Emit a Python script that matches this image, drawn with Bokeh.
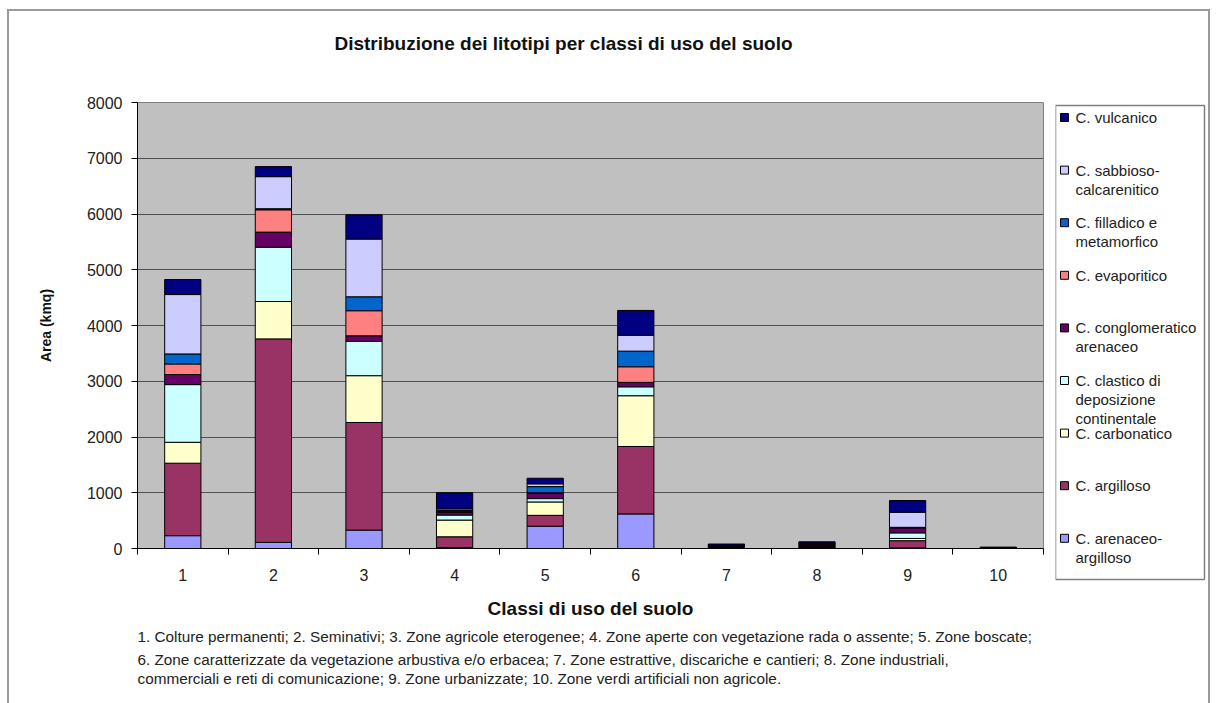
from bokeh.plotting import figure
from bokeh.models import Range1d, FixedTicker, ColumnDataSource, Title
from bokeh.layouts import row, column
from bokeh.core.properties import value
from bokeh.embed import file_html
from bokeh.resources import INLINE

# ---------------- data ----------------
categories = ["1", "2", "3", "4", "5", "6", "7", "8", "9", "10"]

# series, bottom of the stack first
series_names = [
    "C. arenaceo-argilloso",
    "C. argilloso",
    "C. carbonatico",
    "C. clastico di deposizione continentale",
    "C. conglomeratico arenaceo",
    "C. evaporitico",
    "C. filladico e metamorfico",
    "C. sabbioso-calcarenitico",
    "C. vulcanico",
]
arenaceo_argilloso = [230, 110, 330, 15, 400, 620, 5, 10, 10, 5]
argilloso = [1300, 3650, 1930, 195, 195, 1210, 10, 15, 130, 5]
carbonatico = [375, 670, 840, 300, 240, 910, 5, 10, 40, 0]
clastico = [1035, 975, 615, 90, 60, 160, 5, 15, 100, 0]
conglomeratico = [180, 270, 100, 50, 95, 80, 20, 30, 90, 5]
evaporitico = [190, 400, 450, 10, 10, 280, 0, 5, 5, 0]
filladico = [180, 20, 250, 20, 110, 280, 5, 10, 5, 0]
sabbioso = [1065, 575, 1035, 30, 50, 285, 5, 5, 270, 0]
vulcanico = [270, 180, 435, 290, 100, 445, 25, 20, 210, 10]

series_values = [arenaceo_argilloso, argilloso, carbonatico, clastico,
                 conglomeratico, evaporitico, filladico, sabbioso, vulcanico]

# legend text as wrapped in the original (legend order = top of stack first)
legend_lines = [
    ["C. vulcanico"],
    ["C. sabbioso-", "calcarenitico"],
    ["C. filladico e", "metamorfico"],
    ["C. evaporitico"],
    ["C. conglomeratico", "arenaceo"],
    ["C. clastico di", "deposizione", "continentale"],
    ["C. carbonatico"],
    ["C. argilloso"],
    ["C. arenaceo-", "argilloso"],
]

y_ticks = [0, 1000, 2000, 3000, 4000, 5000, 6000, 7000, 8000]

title_text = "Distribuzione dei litotipi per classi di uso del suolo"
x_title = "Classi di uso del suolo"
y_title = "Area (kmq)"
footnote_lines = [
    "1. Colture permanenti; 2. Seminativi; 3. Zone agricole eterogenee; 4. Zone aperte con vegetazione rada o assente; 5. Zone boscate;",
    "6. Zone caratterizzate da vegetazione arbustiva e/o erbacea; 7. Zone estrattive, discariche e cantieri; 8. Zone industriali,",
    "commerciali e reti di comunicazione; 9. Zone urbanizzate; 10. Zone verdi artificiali non agricole.",
]

# ---------------- styles / layout ----------------
colors = ["#9999FF", "#993366", "#FFFFCC", "#CCFFFF", "#660066",
          "#FF8080", "#0066CC", "#CCCCFF", "#000080"]
FONT = "Liberation Sans"

# page coordinates (px)
TOP, LEFT = 11, 9           # inner corner of the outer chart border
HEAD = 71                   # bottom of the title strip
SPLIT = 1055                # main figure | legend figure
RIGHT = 1208
BOTTOM = 703
FRAME_L, FRAME_R, FRAME_T, FRAME_B = 137, 1043, 102, 548


def blank(width, height, x0, x1, y0, y1):
    f = figure(width=width, height=height,
               x_range=Range1d(x0, x1), y_range=Range1d(y1, y0),
               output_backend="svg", toolbar_location=None,
               x_axis_location=None, y_axis_location=None,
               min_border=0, min_border_left=0, min_border_right=0,
               min_border_top=0, min_border_bottom=0)
    f.outline_line_color = None
    f.grid.visible = False
    f.background_fill_color = "white"
    f.border_fill_color = "white"
    return f


# ---------------- title strip ----------------
hd = blank(SPLIT - LEFT, HEAD - TOP, LEFT, SPLIT, TOP, HEAD)
hd.text(x=[563], y=[43], text=[title_text], text_font=value(FONT),
        text_font_style="bold", text_font_size="19px", text_align="center",
        text_baseline="middle", text_color="#111111")

# ---------------- main chart ----------------
keys = ["s%d" % i for i in range(len(series_names))]
data = {"x": [i + 1 for i in range(len(categories))]}
for k, v in zip(keys, series_values):
    data[k] = v
src = ColumnDataSource(data)

p = figure(width=SPLIT - LEFT, height=BOTTOM - HEAD,
           x_range=Range1d(0.5, len(categories) + 0.5),
           y_range=Range1d(y_ticks[0], y_ticks[-1]),
           output_backend="svg", toolbar_location=None,
           min_border_left=FRAME_L - LEFT, min_border_right=SPLIT - FRAME_R,
           min_border_top=FRAME_T - HEAD, min_border_bottom=BOTTOM - FRAME_B)
p.background_fill_color = "#C0C0C0"
p.border_fill_color = "white"
p.outline_line_color = "#808080"
p.outline_line_width = 1

p.vbar_stack(keys, x="x", width=0.4, color=colors, line_color="black",
             line_width=1, source=src)

xs = data["x"]
p.xaxis.ticker = FixedTicker(ticks=xs, minor_ticks=[x - 0.5 for x in xs] + [xs[-1] + 0.5])
p.xaxis.major_label_overrides = {x: c for x, c in zip(xs, categories)}
p.xaxis.major_tick_line_color = None
p.xaxis.major_tick_out = 0
p.xaxis.major_tick_in = 0
p.xaxis.minor_tick_out = 6
p.xaxis.minor_tick_in = 0
p.xaxis.minor_tick_line_color = "black"
p.xaxis.major_label_standoff = 14
p.xaxis.axis_label = x_title
p.xaxis.axis_label_text_font = FONT
p.xaxis.axis_label_text_font_style = "bold"
p.xaxis.axis_label_text_font_size = "19px"
p.xaxis.axis_label_standoff = 14

p.yaxis.ticker = FixedTicker(ticks=y_ticks)
p.yaxis.minor_tick_line_color = None
p.yaxis.major_tick_out = 6
p.yaxis.major_tick_in = 0
p.yaxis.major_label_standoff = 9
p.yaxis.axis_label = y_title
p.yaxis.axis_label_text_font = FONT
p.yaxis.axis_label_text_font_style = "bold"
p.yaxis.axis_label_text_font_size = "14px"
p.yaxis.axis_label_standoff = 30

for ax in (p.xaxis, p.yaxis):
    ax.axis_line_color = "black"
    ax.major_label_text_font = FONT
    ax.major_label_text_font_size = "16px"
    ax.major_label_text_color = "#222222"
    ax.axis_label_text_color = "#111111"

p.xgrid.visible = False
p.ygrid.grid_line_color = "#505050"
p.ygrid.grid_line_width = 1

# footnote below the x axis
for j, t in enumerate(footnote_lines):
    p.add_layout(Title(text=t, align="left", text_font=FONT, text_font_style="normal",
                       text_font_size="15.3px", text_color="#222222",
                       standoff=8 if j == 0 else 0), "below")

# ---------------- legend panel ----------------
lg = blank(RIGHT - SPLIT, BOTTOM - TOP, SPLIT, RIGHT, TOP, BOTTOM)
lg.quad(left=[1055], right=[1204], top=[105], bottom=[579],
        fill_color="white", line_color="#7f7f7f", line_width=1.5)

legend_colors = colors[::-1]
first_y, step, line_h = 117.0, 52.6, 19.0
sq_x, sq_y, sq_c = [], [], []
tx, ty, tt = [], [], []
for i, lines in enumerate(legend_lines):
    cy = first_y + i * step
    sq_x.append(1064)
    sq_y.append(cy)
    sq_c.append(legend_colors[i])
    for j, t in enumerate(lines):
        tx.append(1075)
        ty.append(cy + j * line_h)
        tt.append(t)

lg.rect(x=sq_x, y=sq_y, width=8, height=8, fill_color=sq_c, line_color="black", line_width=1)
lg.text(x=tx, y=ty, text=tt, text_font=value(FONT), text_font_size="15px",
        text_baseline="middle", text_align="left", text_color="#222222")

layout = row(column(column(hd, spacing=0), p, spacing=0), column(lg, spacing=0), spacing=0,
             styles={"margin-left": "7px", "margin-top": "9px",
                     "border-top": "2px solid #9a9a9a",
                     "border-left": "2px solid #9a9a9a",
                     "border-right": "2px solid #9a9a9a"})

open("out.html", "w").write(file_html(layout, INLINE))
